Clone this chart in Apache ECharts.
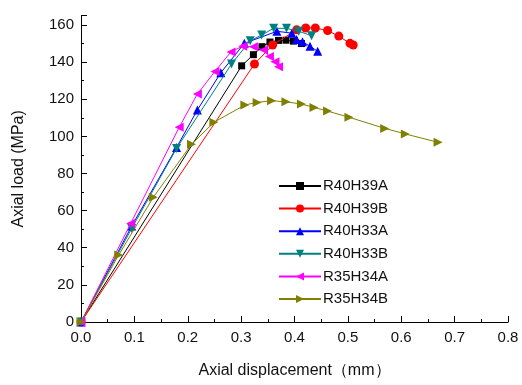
<!DOCTYPE html>
<html><head><meta charset="utf-8">
<script src="https://cdn.jsdelivr.net/npm/echarts@6/dist/echarts.min.js"></script>
<style>html,body{margin:0;padding:0;background:#fff}#c{width:522px;height:385px}</style>
</head><body><div id="c"></div>
<script>
const seriesNames = ['R40H39A','R40H39B','R40H33A','R40H33B','R35H34A','R35H34B'];
const xTicks = [0,0.1,0.2,0.3,0.4,0.5,0.6,0.7,0.8];
const yTicks = [0,20,40,60,80,100,120,140,160];

const r40h39a_x = [0, 0.301, 0.323, 0.339, 0.354, 0.370, 0.384, 0.398, 0.413];
const r40h39a_y = [0, 138.0, 144.0, 148.3, 150.8, 151.7, 151.8, 151.3, 150.0];

const r40h39b_x = [0, 0.325, 0.359, 0.404, 0.421, 0.439, 0.462, 0.483, 0.504, 0.510];
const r40h39b_y = [0, 139.0, 149.2, 157.4, 158.4, 158.4, 157.0, 154.0, 150.1, 149.2];

const r40h33a_x = [0, 0.095, 0.179, 0.218, 0.262, 0.306, 0.367, 0.395, 0.404, 0.415, 0.429, 0.4435];
const r40h33a_y = [0, 51.7, 94.0, 114.2, 134.3, 150.1, 156.6, 155.6, 152.2, 151.0, 148.5, 145.8];

const r40h33b_x = [0, 0.095, 0.179, 0.282, 0.317, 0.3385, 0.361, 0.385, 0.408, 0.432];
const r40h33b_y = [0, 50.4, 93.5, 139.0, 151.5, 154.6, 158.2, 158.2, 156.6, 154.2];

const r35h34a_x = [0, 0.093, 0.184, 0.218, 0.251, 0.281, 0.303, 0.323, 0.342, 0.353, 0.3635, 0.370];
const r35h34a_y = [0, 53.0, 104.9, 122.8, 135.0, 145.5, 148.6, 148.3, 146.5, 143.0, 140.2, 137.5];

const r35h34b_x = [0, 0.0706, 0.1355, 0.207, 0.249, 0.307, 0.330, 0.357, 0.384, 0.413, 0.4365, 0.462, 0.502, 0.569, 0.6076, 0.669];
const r35h34b_y = [0, 36.1, 67.2, 95.7, 107.6, 116.9, 118.3, 119.2, 118.6, 117.4, 115.6, 113.6, 110.3, 104.3, 101.3, 96.8];

const xs = [r40h39a_x, r40h39b_x, r40h33a_x, r40h33b_x, r35h34a_x, r35h34b_x];
const ys = [r40h39a_y, r40h39b_y, r40h33a_y, r40h33b_y, r35h34a_y, r35h34b_y];
const colors = ['#000000','#ff0000','#0000ff','#008080','#ff00ff','#808000'];
const symbols = ['rect','circle','triangle','path://M0,0 L10,0 L5,9 Z','path://M9,0 L0,5 L9,10 Z','path://M0,0 L9,5 L0,10 Z'];
const sizes = [7, 9, 9, 9, 9, 9];

const chart = echarts.init(document.getElementById('c'), null, {renderer:'canvas'});
const font = 'Liberation Sans, Arial, sans-serif';
chart.setOption({
  animation: false,
  backgroundColor: '#fff',
  grid: {left: 81, right: 14, top: 15.7, bottom: 63, containLabel: false},
  legend: {
    orient: 'vertical', left: 273, top: 173,
    itemWidth: 42, itemHeight: 10, itemGap: 6.6,
    textStyle: {fontFamily: font, fontSize: 15, color: '#111', lineHeight: 16, padding: [0,0,0,-3]},
    data: seriesNames
  },
  xAxis: {
    type: 'value', min: 0, max: 0.8, interval: 0.1,
    name: 'Axial displacement（mm）', nameLocation: 'middle', nameGap: 41,
    nameTextStyle: {fontFamily: font, fontSize: 16, color: '#111'},
    axisLine: {lineStyle: {color: '#000', width: 1}},
    axisTick: {inside: true, length: 6, lineStyle: {color: '#000'}},
    minorTick: {show: true, splitNumber: 2, length: 3, lineStyle: {color: '#000'}},
    splitLine: {show: false},
    axisLabel: {fontFamily: font, fontSize: 15, color: '#111', margin: 8,
      formatter: v => xTicks.some(t => Math.abs(t - v) < 1e-9) ? v.toFixed(1) : ''}
  },
  yAxis: {
    type: 'value', min: 0, max: 165, interval: 20,
    name: 'Axial load (MPa)', nameLocation: 'middle', nameGap: 54, nameRotate: 90,
    nameTextStyle: {fontFamily: font, fontSize: 16, color: '#111'},
    axisLine: {show: true, lineStyle: {color: '#000', width: 1}},
    axisTick: {show: true, inside: true, length: 6, lineStyle: {color: '#000'}},
    minorTick: {show: true, splitNumber: 2, length: 3, lineStyle: {color: '#000'}},
    splitLine: {show: false},
    axisLabel: {fontFamily: font, fontSize: 15, color: '#111', margin: 7,
      formatter: v => yTicks.indexOf(v) >= 0 ? String(v) : ''}
  },
  series: seriesNames.map((n, i) => ({
    name: n, type: 'line',
    data: xs[i].map((x, k) => [x, ys[i][k]]),
    symbol: symbols[i], symbolSize: sizes[i], showAllSymbol: true,
    lineStyle: {color: colors[i], width: 1},
    itemStyle: {color: colors[i], borderWidth: 0},
    z: 2 + i
  }))
});
</script></body></html>
